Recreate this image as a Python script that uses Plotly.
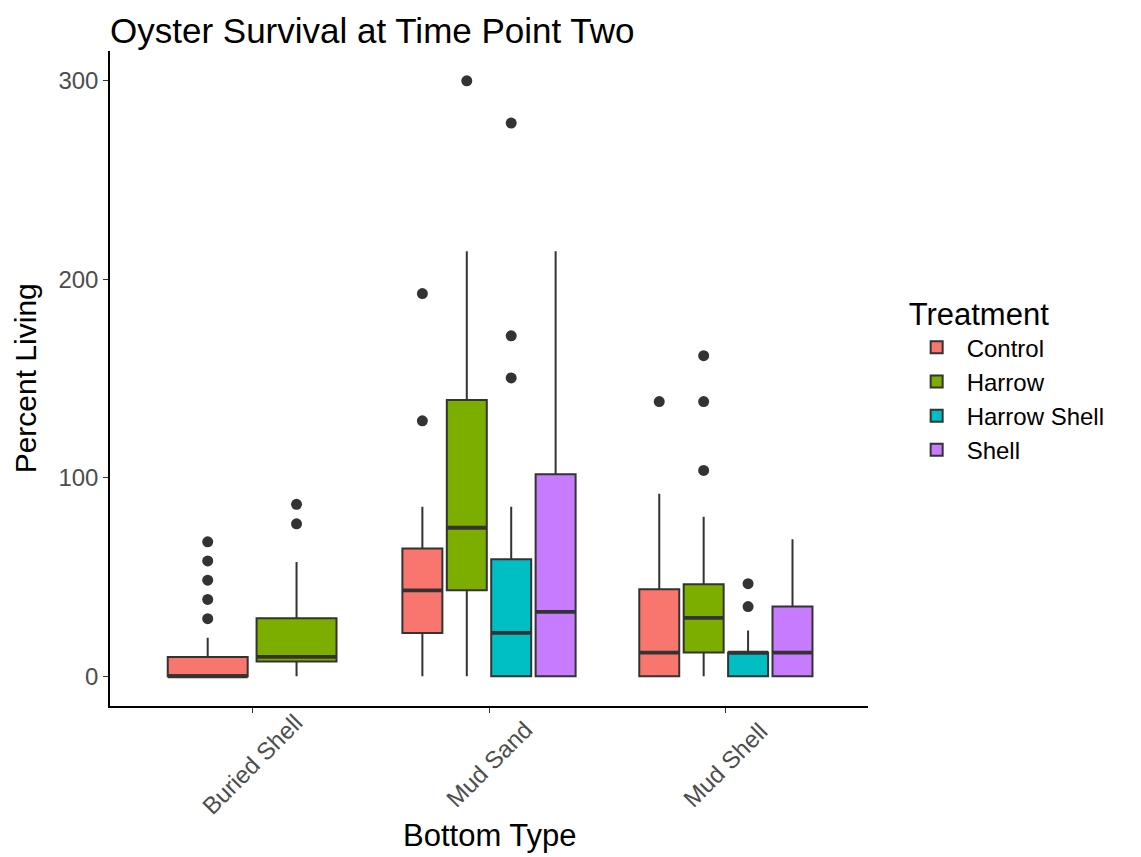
import plotly.graph_objects as go

bottom_types = ["Buried Shell", "Mud Sand", "Mud Shell"]
treatments = ["Control", "Harrow", "Harrow Shell", "Shell"]
colors = ["#F8766D", "#7CAE00", "#00BFC4", "#C77CFF"]

# summary stats per bottom type (None = treatment absent)
control_q1 = [0, 21.8, 0]
control_med = [0, 43.3, 11.9]
control_q3 = [9.7, 64.3, 43.8]
control_lo = [0, 0, 0]
control_hi = [19.4, 85.4, 91.9]
control_out = [[29.0, 38.7, 48.4, 58.1, 67.7], [128.7, 192.8], [138.4]]

harrow_q1 = [7.4, 43.3, 11.9]
harrow_med = [9.7, 74.8, 29.4]
harrow_q3 = [29.2, 139.2, 46.3]
harrow_lo = [0, 0, 0]
harrow_hi = [57.5, 214.1, 80.4]
harrow_out = [[76.8, 86.6], [300.0], [103.7, 138.4, 161.5]]

hshell_q1 = [None, 0, 0]
hshell_med = [None, 21.8, 11.9]
hshell_q3 = [None, 58.9, 11.9]
hshell_lo = [None, 0, 0]
hshell_hi = [None, 85.4, 23.1]
hshell_out = [[], [150.3, 171.5, 278.7], [35.1, 46.6]]

shell_q1 = [None, 0, 0]
shell_med = [None, 32.4, 11.9]
shell_q3 = [None, 101.7, 35.1]
shell_lo = [None, 0, 0]
shell_hi = [None, 214.1, 69.0]
shell_out = [[], [], []]

stats = [
    (control_q1, control_med, control_q3, control_lo, control_hi, control_out),
    (harrow_q1, harrow_med, harrow_q3, harrow_lo, harrow_hi, harrow_out),
    (hshell_q1, hshell_med, hshell_q3, hshell_lo, hshell_hi, hshell_out),
    (shell_q1, shell_med, shell_q3, shell_lo, shell_hi, shell_out),
]

FONT = "Liberation Sans, Arial, sans-serif"
DARK = "#333333"
GROUP_W = 0.75
PAD = 0.9

fig = go.Figure()
shown = set()
for bi, bt in enumerate(bottom_types):
    present = [ti for ti in range(len(treatments)) if stats[ti][0][bi] is not None]
    n = len(present)
    slot = GROUP_W / n
    for k, ti in enumerate(present):
        q1, med, q3, lo, hi, out = (s[bi] for s in stats[ti])
        cx = (bi + 1) - GROUP_W / 2 + slot * (k + 0.5)
        w = slot * PAD
        fig.add_trace(go.Box(
            x=[cx], q1=[q1], median=[med], q3=[q3],
            lowerfence=[lo], upperfence=[hi],
            width=w, fillcolor=colors[ti],
            line=dict(color=DARK, width=2), whiskerwidth=0,
            boxpoints=False, name=treatments[ti],
            legendgroup=treatments[ti],
            showlegend=treatments[ti] not in shown,
        ))
        shown.add(treatments[ti])
        fig.add_trace(go.Scatter(
            x=[cx - w / 2, cx + w / 2], y=[med, med], mode="lines",
            line=dict(color=DARK, width=3.8), showlegend=False,
            hoverinfo="skip", legendgroup=treatments[ti],
        ))
        if out:
            fig.add_trace(go.Scatter(
                x=[cx] * len(out), y=out, mode="markers",
                marker=dict(color=DARK, size=11), showlegend=False,
                legendgroup=treatments[ti],
            ))

annotations = []
for bi, bt in enumerate(bottom_types):
    annotations.append(dict(
        x=bi + 1, y=-0.09, xref="x", yref="paper", text=bt,
        textangle=-45, showarrow=False, xanchor="center", yanchor="middle",
        font=dict(family=FONT, size=24, color="#4d4d4d"),
    ))
annotations.append(dict(
    x=0.5, y=-0.198, xref="paper", yref="paper", text="Bottom Type",
    showarrow=False, xanchor="center", yanchor="middle",
    font=dict(family=FONT, size=31, color="black"),
))
annotations.append(dict(
    x=-0.111, y=0.5, xref="paper", yref="paper", text="Percent Living",
    textangle=-90, showarrow=False, xanchor="center", yanchor="middle",
    font=dict(family=FONT, size=30, color="black"),
))

fig.update_layout(
    width=1141, height=857,
    paper_bgcolor="white", plot_bgcolor="white",
    margin=dict(l=102, r=281, t=43, b=159),
    title=dict(text="Oyster Survival at Time Point Two", xref="paper", x=0,
               xanchor="left", yref="container", y=0.974, yanchor="middle",
               font=dict(family=FONT, size=35, color="black")),
    xaxis=dict(range=[0.4, 3.6], tickvals=[1, 2, 3], showticklabels=False,
               showline=True, linecolor="black", linewidth=1.5,
               ticks="outside", ticklen=5, tickcolor=DARK, tickwidth=1.3,
               showgrid=False, zeroline=False),
    yaxis=dict(range=[-15, 315], tickvals=[0, 100, 200, 300],
               showline=True, linecolor="black", linewidth=1.5,
               ticks="outside", ticklen=5, tickcolor=DARK, tickwidth=1.3,
               tickfont=dict(family=FONT, size=24, color="#4d4d4d"),
               showgrid=False, zeroline=False),
    legend=dict(x=1.051, y=0.643, xanchor="left", yanchor="top",
                title=dict(text="Treatment", font=dict(family=FONT, size=31, color="black")),
                font=dict(family=FONT, size=24, color="black"),
                itemwidth=50, tracegroupgap=0, traceorder="grouped"),
    annotations=annotations,
    showlegend=True,
)

fig.write_html("out.html")
